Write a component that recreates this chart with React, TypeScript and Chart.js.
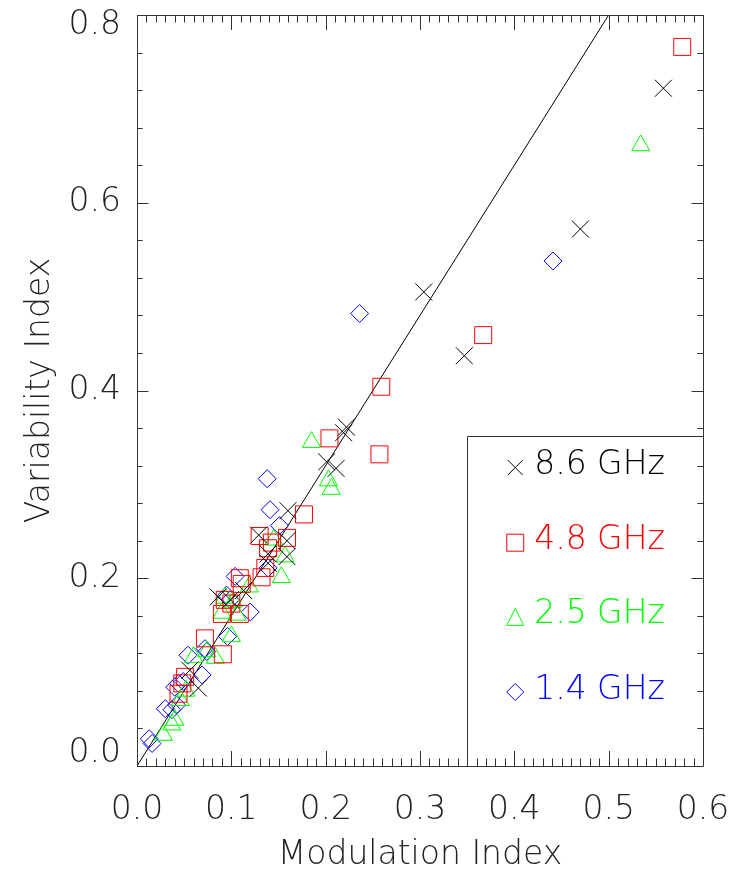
import React, { useEffect, useRef } from 'react';
import { Chart, registerables } from 'chart.js';

Chart.register(...registerables);

const FONT = "'DejaVu Sans', 'Liberation Sans', sans-serif";
const FONT_WEIGHT = 200;
const TEXT = '#222222';
const AXIS = '#333333';

// tick labels
const xTickLabels = ['0.0', '0.1', '0.2', '0.3', '0.4', '0.5', '0.6'];
const yTickValues = [0, 0.2, 0.4, 0.6, 0.8];
const yTickLabels = ['0.0', '0.2', '0.4', '0.6', '0.8'];

// series meta
const seriesNames = ['8.6 GHz', '4.8 GHz', '2.5 GHz', '1.4 GHz'];
const seriesColors = ['#000000', '#ff0000', '#00ff00', '#0000ff'];
const seriesStyles = ['crossRot', 'rect', 'triangle', 'rectRot'];
const seriesRadius = [12, 12, 10.5, 9];

// 8.6 GHz (x = modulation index, y = variability index)
const mod86 = [0.558, 0.470, 0.347, 0.304, 0.222, 0.219, 0.201, 0.211, 0.160, 0.159, 0.159, 0.129, 0.139, 0.139, 0.113, 0.086, 0.099, 0.056, 0.065];
const var86 = [0.722, 0.572, 0.437, 0.505, 0.361, 0.355, 0.324, 0.317, 0.272, 0.240, 0.223, 0.246, 0.226, 0.216, 0.187, 0.180, 0.177, 0.102, 0.083];

// 4.8 GHz
const mod48 = [0.578, 0.367, 0.259, 0.257, 0.204, 0.177, 0.130, 0.159, 0.143, 0.139, 0.136, 0.109, 0.132, 0.111, 0.093, 0.100, 0.090, 0.109, 0.072, 0.091, 0.051, 0.044, 0.048];
const var48 = [0.766, 0.459, 0.404, 0.332, 0.349, 0.268, 0.245, 0.243, 0.238, 0.232, 0.211, 0.200, 0.201, 0.194, 0.177, 0.173, 0.162, 0.162, 0.136, 0.119, 0.095, 0.077, 0.088];

// 2.5 GHz
const mod25 = [0.534, 0.185, 0.203, 0.206, 0.145, 0.157, 0.153, 0.119, 0.093, 0.102, 0.090, 0.106, 0.100, 0.074, 0.083, 0.060, 0.040, 0.037, 0.028, 0.046, 0.052];
const var25 = [0.661, 0.345, 0.304, 0.295, 0.241, 0.223, 0.201, 0.191, 0.179, 0.175, 0.163, 0.161, 0.138, 0.122, 0.115, 0.116, 0.049, 0.044, 0.033, 0.070, 0.080];

// 1.4 GHz
const mod14 = [0.441, 0.236, 0.138, 0.141, 0.151, 0.139, 0.104, 0.120, 0.095, 0.099, 0.096, 0.072, 0.074, 0.069, 0.054, 0.049, 0.044, 0.040, 0.042, 0.037, 0.030, 0.016, 0.013];
const var14 = [0.538, 0.482, 0.306, 0.273, 0.256, 0.211, 0.202, 0.164, 0.182, 0.177, 0.138, 0.125, 0.122, 0.097, 0.118, 0.090, 0.088, 0.084, 0.065, 0.060, 0.061, 0.024, 0.029];

const seriesX = [mod86, mod48, mod25, mod14];
const seriesY = [var86, var48, var25, var14];

// reference line
const fitX = [0, 0.5];
const fitY = [0, 0.8];

// legend anchor (data coords of the legend box corner and rows)
const legendCorner = [0.35, 0.352];
const legendRowsY = [0.320, 0.240, 0.161, 0.081];
const legendSymbolX = 0.401;
const legendTextX = 0.421;

function drawSymbol(ctx: CanvasRenderingContext2D, style: string, x: number, y: number, color: string) {
  ctx.save();
  ctx.strokeStyle = color;
  ctx.lineWidth = 1;
  ctx.beginPath();
  const h = 8.5;
  if (style === 'crossRot') {
    const c = 7.5;
    ctx.moveTo(x - c, y - c); ctx.lineTo(x + c, y + c);
    ctx.moveTo(x + c, y - c); ctx.lineTo(x - c, y + c);
  } else if (style === 'rect') {
    ctx.rect(x - h, y - h, 2 * h, 2 * h);
  } else if (style === 'triangle') {
    ctx.moveTo(x, y - h); ctx.lineTo(x + h, y + h); ctx.lineTo(x - h, y + h); ctx.closePath();
  } else {
    ctx.moveTo(x - h, y); ctx.lineTo(x, y - h); ctx.lineTo(x + h, y); ctx.lineTo(x, y + h); ctx.closePath();
  }
  ctx.stroke();
  ctx.restore();
}

const framePlugin = {
  id: 'frame',
  afterDraw(chart: any) {
    const { ctx, chartArea } = chart;
    const xs = chart.scales.x;
    const ys = chart.scales.y;
    const { left, right, top, bottom } = chartArea;
    ctx.save();
    ctx.strokeStyle = AXIS;
    ctx.lineWidth = 1;
    ctx.beginPath();
    ctx.rect(Math.round(left) + 0.5, Math.round(top) + 0.5, Math.round(right - left), Math.round(bottom - top));
    ctx.stroke();

    // x ticks every 0.01, major every 0.1 (bottom and top, inward)
    ctx.beginPath();
    for (let i = 0; i <= 60; i++) {
      const px = Math.round(xs.getPixelForValue(i / 100)) + 0.5;
      const len = i % 10 === 0 ? 15 : 7.5;
      ctx.moveTo(px, bottom); ctx.lineTo(px, bottom - len);
      ctx.moveTo(px, top); ctx.lineTo(px, top + len);
    }
    // y ticks every 0.04, major every 0.2 (left and right, inward)
    for (let j = 0; j <= 20; j++) {
      const py = Math.round(ys.getPixelForValue(j * 0.04)) + 0.5;
      const len = j % 5 === 0 ? 11.5 : 5.7;
      ctx.moveTo(left, py); ctx.lineTo(left + len, py);
      ctx.moveTo(right, py); ctx.lineTo(right - len, py);
    }
    ctx.stroke();

    // y tick labels
    ctx.fillStyle = TEXT;
    ctx.font = `${FONT_WEIGHT} 33px ${FONT}`;
    ctx.textAlign = 'right';
    ctx.textBaseline = 'middle';
    yTickValues.forEach((v, k) => {
      let py = ys.getPixelForValue(v);
      if (k === 0) py -= 13;
      if (k === yTickValues.length - 1) py += 10;
      ctx.fillText(yTickLabels[k], left - 16, py);
    });

    // legend box
    const bx = Math.round(xs.getPixelForValue(legendCorner[0])) + 0.5;
    const by = Math.round(ys.getPixelForValue(legendCorner[1])) + 0.5;
    ctx.beginPath();
    ctx.moveTo(bx, bottom);
    ctx.lineTo(bx, by);
    ctx.lineTo(right, by);
    ctx.stroke();

    ctx.textAlign = 'left';
    seriesNames.forEach((name, k) => {
      const py = ys.getPixelForValue(legendRowsY[k]);
      drawSymbol(ctx, seriesStyles[k], xs.getPixelForValue(legendSymbolX), py + 2, seriesColors[k]);
      ctx.fillStyle = seriesColors[k];
      ctx.fillText(name, xs.getPixelForValue(legendTextX), py);
    });
    ctx.restore();
  },
};

export default function App() {
  const ref = useRef<HTMLCanvasElement | null>(null);

  useEffect(() => {
    if (!ref.current) return;
    const datasets: any[] = seriesNames.map((name, k) => ({
      type: 'scatter',
      label: name,
      data: seriesX[k].map((x, i) => ({ x, y: seriesY[k][i] })),
      pointStyle: seriesStyles[k],
      pointRadius: seriesRadius[k],
      pointHoverRadius: seriesRadius[k],
      pointBorderWidth: 1,
      borderColor: seriesColors[k],
      backgroundColor: 'rgba(0,0,0,0)',
      showLine: false,
    }));
    datasets.push({
      type: 'line',
      label: 'fit',
      data: fitX.map((x, i) => ({ x, y: fitY[i] })),
      borderColor: '#000000',
      borderWidth: 1,
      pointRadius: 0,
      fill: false,
    });

    const font = { family: FONT, size: 33, weight: FONT_WEIGHT as any };
    const chart = new Chart(ref.current, {
      type: 'scatter',
      data: { datasets },
      options: {
        animation: false,
        responsive: false,
        devicePixelRatio: 1,
        layout: { padding: { top: 15, right: 30, left: 0, bottom: 0 } },
        plugins: { legend: { display: false }, tooltip: { enabled: false } },
        scales: {
          x: {
            type: 'linear',
            min: 0,
            max: 0.6,
            grid: { display: false },
            border: { display: false },
            ticks: {
              stepSize: 0.1,
              autoSkip: false,
              maxRotation: 0,
              color: TEXT,
              font,
              padding: 17,
              callback: (v: any) => xTickLabels[Math.round(Number(v) * 10)],
            },
            title: { display: true, text: 'Modulation Index', color: TEXT, font, padding: { top: 0, bottom: -4 } },
            afterFit: (s: any) => { s.height = 105; s.paddingLeft = 0; s.paddingRight = 0; },
          },
          y: {
            type: 'linear',
            min: 0,
            max: 0.8,
            grid: { display: false },
            border: { display: false },
            ticks: { display: false },
            title: { display: true, text: 'Variability Index', color: TEXT, font, padding: { top: 21, bottom: 0 } },
            afterFit: (s: any) => { s.width = 137; s.paddingTop = 0; s.paddingBottom = 0; },
          },
        },
      },
      plugins: [framePlugin],
    });
    return () => chart.destroy();
  }, []);

  return (
    <div style={{ position: 'absolute', left: 0, top: 0, width: 733, height: 871, background: '#ffffff' }}>
      <canvas ref={ref} width={733} height={871} style={{ width: 733, height: 871, display: 'block' }} />
    </div>
  );
}
